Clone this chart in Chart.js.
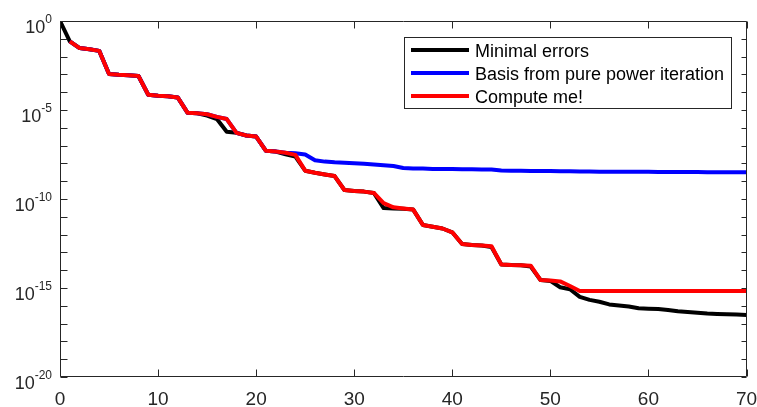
<!DOCTYPE html>
<html><head><meta charset="utf-8">
<script src="https://cdn.jsdelivr.net/npm/chart.js@4/dist/chart.umd.min.js"></script>
<style>html,body{margin:0;padding:0;background:#fff;}canvas{display:block;}</style>
</head><body>
<canvas id="c" width="757" height="407"></canvas>
<script>
const iterations = [0,1,2,3,4,5,6,7,8,9,10,11,12,13,14,15,16,17,18,19,20,21,22,23,24,25,26,27,28,29,30,31,32,33,34,35,36,37,38,39,40,41,42,43,44,45,46,47,48,49,50,51,52,53,54,55,56,57,58,59,60,61,62,63,64,65,66,67,68,69,70];

const minimalErrors = [
 1, 7.1e-2, 3.0e-2, 2.6e-2, 2.1e-2, 1.05e-3, 9.5e-4, 8.9e-4, 8.1e-4, 7.2e-5,
 6.3e-5, 5.9e-5, 5.1e-5, 7.1e-6, 6.5e-6, 4.9e-6, 3.1e-6, 6.0e-7, 5.2e-7, 3.7e-7,
 3.2e-7, 5.1e-8, 4.6e-8, 3.2e-8, 2.4e-8, 3.9e-9, 3.0e-9, 2.4e-9, 1.95e-9, 3.2e-10,
 2.8e-10, 2.6e-10, 2.2e-10, 3.1e-11, 2.95e-11, 2.8e-11, 2.6e-11, 3.5e-12, 2.75e-12, 2.2e-12,
 1.35e-12, 2.95e-13, 2.6e-13, 2.45e-13, 2.0e-13, 2.1e-14, 1.95e-14, 1.9e-14, 1.6e-14, 2.8e-15,
 2.5e-15, 1.1e-15, 8.5e-16, 3.2e-16, 2.15e-16, 1.7e-16, 1.2e-16, 1.05e-16, 9.1e-17, 7.2e-17,
 6.9e-17, 6.6e-17, 5.8e-17, 4.9e-17, 4.5e-17, 4.1e-17, 3.7e-17, 3.5e-17, 3.4e-17, 3.2e-17,
 3.0e-17];

const powerIterationErrors = [
 null, 7.1e-2, 3.0e-2, 2.6e-2, 2.1e-2, 1.05e-3, 9.5e-4, 8.9e-4, 8.1e-4, 7.2e-5,
 6.3e-5, 5.9e-5, 5.1e-5, 7.1e-6, 6.5e-6, 5.8e-6, 4.1e-6, 3.1e-6, 5.2e-7, 3.7e-7,
 3.2e-7, 5.1e-8, 4.6e-8, 4.0e-8, 3.7e-8, 3.2e-8, 1.5e-8, 1.26e-8, 1.15e-8, 1.1e-8,
 1.02e-8, 9.5e-9, 8.7e-9, 7.8e-9, 7.1e-9, 5.5e-9, 5.2e-9, 5.1e-9, 4.9e-9, 4.85e-9,
 4.8e-9, 4.7e-9, 4.65e-9, 4.6e-9, 4.55e-9, 4.0e-9, 3.9e-9, 3.85e-9, 3.8e-9, 3.75e-9,
 3.7e-9, 3.65e-9, 3.6e-9, 3.55e-9, 3.5e-9, 3.45e-9, 3.45e-9, 3.4e-9, 3.4e-9, 3.35e-9,
 3.35e-9, 3.3e-9, 3.3e-9, 3.3e-9, 3.25e-9, 3.25e-9, 3.2e-9, 3.2e-9, 3.2e-9, 3.15e-9,
 3.15e-9];

const computeMeErrors = [
 null, 7.1e-2, 3.0e-2, 2.6e-2, 2.1e-2, 1.05e-3, 9.5e-4, 8.9e-4, 8.1e-4, 7.2e-5,
 6.3e-5, 5.9e-5, 5.1e-5, 7.1e-6, 6.5e-6, 5.8e-6, 4.1e-6, 3.1e-6, 5.2e-7, 3.7e-7,
 3.2e-7, 5.1e-8, 4.6e-8, 4.0e-8, 3.0e-8, 3.9e-9, 3.0e-9, 2.4e-9, 1.95e-9, 3.2e-10,
 2.8e-10, 2.6e-10, 2.2e-10, 5.8e-11, 3.4e-11, 2.95e-11, 2.6e-11, 3.5e-12, 2.75e-12, 2.2e-12,
 1.35e-12, 2.95e-13, 2.6e-13, 2.45e-13, 2.2e-13, 2.1e-14, 1.95e-14, 1.9e-14, 1.8e-14, 2.8e-15,
 2.6e-15, 2.35e-15, 1.3e-15, 6.8e-16, 6.8e-16, 6.8e-16, 6.8e-16, 6.8e-16, 6.8e-16, 6.8e-16,
 6.8e-16, 6.8e-16, 6.8e-16, 6.8e-16, 6.8e-16, 6.8e-16, 6.8e-16, 6.8e-16, 6.8e-16, 6.8e-16,
 6.8e-16];

const seriesLabels = ['Minimal errors', 'Basis from pure power iteration', 'Compute me!'];
const seriesColors = ['#000000', '#0000ff', '#ff0000'];
const xTickValues = [0, 10, 20, 30, 40, 50, 60, 70];
const yTickExponents = [0, -5, -10, -15, -20];
const yMinExponent = -20;
const yMaxExponent = 0;

const FONT = '"Liberation Sans", Arial, Helvetica, sans-serif';
const AXIS = '#262626';

function pts(arr) { return iterations.map((x, i) => ({ x: x, y: arr[i] })); }

const framePlugin = {
  id: 'framePlugin',
  afterDatasetsDraw(chart) {
    const { ctx, chartArea: a, scales } = chart;
    const xs = scales.x, ys = scales.y;
    ctx.save();
    ctx.strokeStyle = AXIS;
    ctx.lineWidth = 1;
    const L = Math.round(a.left) + 0.5, T = Math.round(a.top) + 0.5;
    const R = Math.round(a.right) - 0.5, B = Math.round(a.bottom) - 0.5;
    ctx.beginPath();
    ctx.rect(L, T, R - L, B - T);
    xTickValues.forEach(v => {
      const px = Math.round(xs.getPixelForValue(v)) + 0.5;
      ctx.moveTo(px, B); ctx.lineTo(px, B - 7);
      ctx.moveTo(px, T); ctx.lineTo(px, T + 7);
    });
    for (let e = yMinExponent; e <= yMaxExponent; e++) {
      const py = Math.round(ys.getPixelForValue(Math.pow(10, e))) + 0.5;
      ctx.moveTo(L, py); ctx.lineTo(L + 7, py);
      ctx.moveTo(R, py); ctx.lineTo(R - 5, py);
    }
    ctx.stroke();

    ctx.fillStyle = AXIS;
    ctx.textBaseline = 'alphabetic';
    yTickExponents.forEach(e => {
      const py = ys.getPixelForValue(Math.pow(10, e));
      const expText = String(e);
      ctx.font = '12px ' + FONT;
      ctx.textAlign = 'right';
      const right = a.left - 8;
      ctx.fillText(expText, right, py + 2);
      const ew = ctx.measureText(expText).width;
      ctx.font = '18px ' + FONT;
      ctx.fillText('10', right - ew, py + 11.5);
    });

    const bx = 404, by = 37, bw = 327, bh = 71;
    ctx.fillStyle = '#ffffff';
    ctx.fillRect(bx, by, bw, bh);
    ctx.strokeStyle = AXIS;
    ctx.lineWidth = 1;
    ctx.strokeRect(bx + 0.5, by + 0.5, bw, bh);
    const rows = [50, 73, 96];
    chart.data.datasets.forEach((ds, i) => {
      const ry = rows[i];
      ctx.strokeStyle = ds.borderColor;
      ctx.lineWidth = 4;
      ctx.beginPath();
      ctx.moveTo(411, ry); ctx.lineTo(469, ry);
      ctx.stroke();
      ctx.fillStyle = '#000000';
      ctx.font = '18px ' + FONT;
      ctx.textAlign = 'left';
      ctx.textBaseline = 'alphabetic';
      ctx.fillText(ds.label, 475, ry + 6.5);
    });
    ctx.restore();
  }
};

new Chart(document.getElementById('c'), {
  type: 'line',
  data: {
    datasets: [
      { label: seriesLabels[0], data: pts(minimalErrors), borderColor: seriesColors[0], order: 2 },
      { label: seriesLabels[1], data: pts(powerIterationErrors), borderColor: seriesColors[1], order: 1 },
      { label: seriesLabels[2], data: pts(computeMeErrors), borderColor: seriesColors[2], order: 0 }
    ]
  },
  options: {
    responsive: false,
    animation: false,
    devicePixelRatio: 1,
    datasets: { line: { borderWidth: 4, pointRadius: 0, tension: 0, fill: false, borderJoinStyle: 'round', borderCapStyle: 'butt', spanGaps: false } },
    layout: { padding: { top: 21, right: 0, left: 0, bottom: 0 } },
    plugins: { legend: { display: false }, tooltip: { enabled: false } },
    scales: {
      x: {
        type: 'linear', min: 0, max: 70,
        afterBuildTicks: s => { s.ticks = xTickValues.map(v => ({ value: v })); },
        grid: { display: false, drawTicks: false },
        border: { display: false },
        ticks: { color: AXIS, font: { family: FONT, size: 19 }, padding: 11, maxRotation: 0, autoSkip: false },
        afterFit: s => { s.height = 30; s.paddingRight = 10.5; }
      },
      y: {
        type: 'logarithmic', min: Math.pow(10, yMinExponent), max: Math.pow(10, yMaxExponent),
        grid: { display: false, drawTicks: false },
        border: { display: false },
        ticks: { display: false },
        afterFit: s => { s.width = 60; }
      }
    }
  },
  plugins: [framePlugin]
});
</script>
</body></html>
